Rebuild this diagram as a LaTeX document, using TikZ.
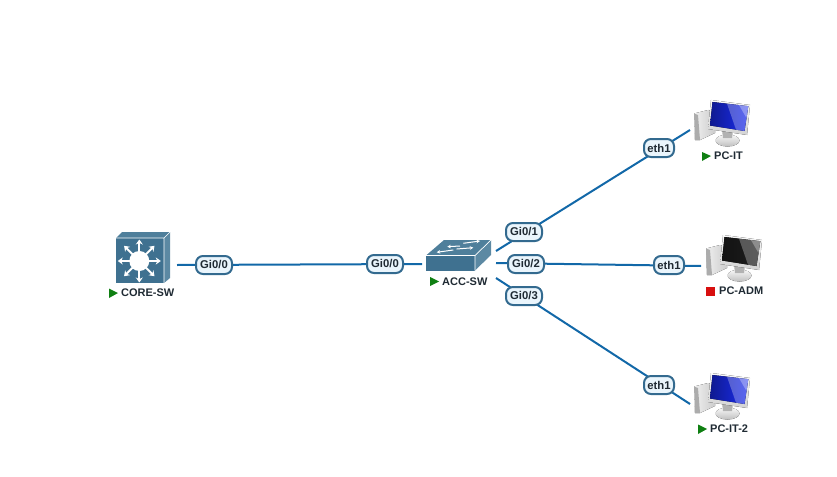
\documentclass[tikz,border=0pt]{standalone}
\usepackage{fontspec}
\setmainfont{Liberation Sans}
\usetikzlibrary{arrows.meta}
\definecolor{linkc}{HTML}{1268A8}
\definecolor{pillb}{HTML}{336A8F}
\definecolor{pillf}{HTML}{EAF5FC}
\definecolor{devf}{HTML}{3F7190}
\definecolor{devt}{HTML}{4F7F9B}
\definecolor{devr}{HTML}{5C89A3}
\definecolor{playc}{HTML}{0F7F12}
\definecolor{stopc}{HTML}{D80F0F}
\definecolor{txt}{HTML}{1F2A33}
\definecolor{scrblue}{HTML}{1A2CF0}
\definecolor{scrgrey}{HTML}{1E1E1E}
\tikzset{
 x=1pt,y=-1pt,
 link/.style={draw=linkc,line width=2pt},
 pill/.style={draw=pillb,fill=pillf,line width=2pt,rounded corners=7pt,minimum height=18pt,minimum width=#1,inner sep=0pt,text=txt,font=\fontsize{11.3}{13}\bfseries\selectfont},
 pill/.default=36pt,
 devname/.style={text=txt,font=\fontsize{11}{13}\bfseries\selectfont,inner sep=0pt,anchor=west},
 play/.style={fill=playc,draw=none},
 wa/.style={white,line width=2pt,-{Stealth[length=5pt,width=7pt]}},
 swa/.style={white,line width=1pt,-{Stealth[length=3.5pt,width=3.5pt]}},
 pics/pc/.style={code={
  % tower
  \fill[left color=gray!12,right color=gray!40] (0,13.5) -- (14,10) -- (21,12) -- (21,33) -- (6,40) -- (1,40) -- cycle;
  \fill[gray!65] (0,13.5) -- (4,15) -- (6,40) -- (1,40) -- cycle;
  % stand and base
  \fill[top color=gray!5,bottom color=gray!50] (33.5,40.5) ellipse (12pt and 6pt);
  \fill[gray!60] (28,30) -- (39,31) -- (38,38) -- (29,38) -- cycle;
  % monitor
  \fill[top color=gray!5,bottom color=gray!35] (17,0) -- (56,5) -- (53,35) -- (14,29) -- cycle;
  \fill[left color=#1!60!black,right color=#1] (18.5,2) -- (54.3,6.2) -- (50.5,31) -- (16,25.5) -- cycle;
  \fill[white,opacity=.28] (33,3.7) -- (54.3,6.2) -- (50.5,31) -- (42,29.7) -- cycle;
  \fill[white,opacity=.3] (45,5.1) -- (54.3,6.2) -- (52.5,18) -- cycle;
 }}
}
\begin{document}
\begin{tikzpicture}
\useasboundingbox (0,0) rectangle (837,476);
% link ends
\coordinate (coreE) at (177,265);
\coordinate (accW) at (422,264);
\coordinate (accA) at (496,251);
\coordinate (accB) at (496,263);
\coordinate (accC) at (496,278);
\coordinate (itE) at (690,130);
\coordinate (admE) at (701,266);
\coordinate (it2E) at (690,404);
% links
\draw[link] (coreE) -- (accW);
\draw[link] (accA) -- (itE);
\draw[link] (accB) -- (admE);
\draw[link] (accC) -- (it2E);
% core switch
\fill[devt] (116,238) -- (122,232) -- (170,232) -- (164,238) -- cycle;
\fill[devr] (164,238) -- (170,232) -- (170,278) -- (164,283) -- cycle;
\fill[devf] (116,238) rectangle (164,283);
\draw[white,line width=.7pt] (116,238) -- (164,238) -- (164,283) (164,238) -- (170,232);
\fill[white] (139.3,261) circle (10pt);
\foreach \a in {0,45,...,315}
  \draw[wa] (139.3,261) ++(\a:9) -- ++(\a:12.5);
% access switch
\fill[devt] (426,255.5) -- (444,240) -- (491,240) -- (475,255.5) -- cycle;
\fill[devr] (475,255.5) -- (491,240) -- (491,255) -- (475,270.5) -- cycle;
\fill[devf] (426,255.5) rectangle (475,270.5);
\draw[white,line width=.7pt] (426,255.5) -- (475,255.5) -- (475,270.5) (475,255.5) -- (491,240);
\draw[swa] (463.3,243.3) -- (480,241);
\draw[swa] (460,246) -- (447.3,246.7);
\draw[swa] (456.7,249) -- (473.3,247.7);
\draw[swa] (453.3,250) -- (436.7,252.3);
% PCs
\pic at (694,100) {pc=scrblue};
\pic at (706,235) {pc=scrgrey};
\pic at (694,373) {pc=scrblue};
% link labels
\node[pill] (l1) at (214,265) {Gi0/0};
\node[pill] (l2) at (385,264) {Gi0/0};
\node[pill] (l3) at (524,232) {Gi0/1};
\node[pill] (l4) at (526,264) {Gi0/2};
\node[pill] (l5) at (524,296) {Gi0/3};
\node[pill=30pt] (l6) at (659,148) {eth1};
\node[pill=30pt] (l7) at (669,265) {eth1};
\node[pill=30pt] (l8) at (659,385) {eth1};
% device names
\node[devname] (n1) at (121,293) {CORE-SW};
\fill[play] (109,288.5) -- (118,293) -- (109,298) -- cycle;
\node[devname] (n2) at (442,281.5) {ACC-SW};
\fill[play] (430,277) -- (439,281.5) -- (430,286) -- cycle;
\node[devname] (n3) at (714,156) {PC-IT};
\fill[play] (702,152) -- (711,156) -- (702,161) -- cycle;
\node[devname] (n4) at (719,291) {PC-ADM};
\fill[stopc] (706,286.5) rectangle (715,295.5);
\node[devname] (n5) at (710,429) {PC-IT-2};
\fill[play] (698,424.5) -- (707,429) -- (698,434) -- cycle;
\end{tikzpicture}
\end{document}
